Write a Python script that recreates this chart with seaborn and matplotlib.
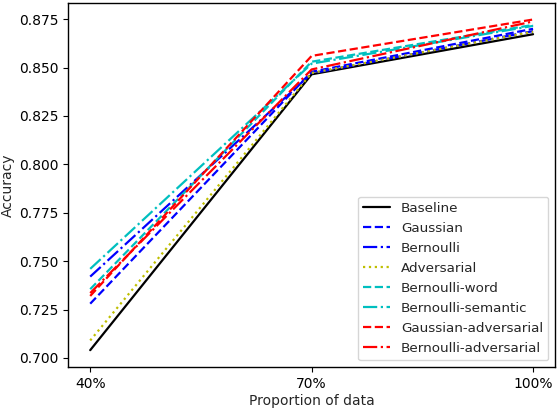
import matplotlib
matplotlib.use("Agg")
import matplotlib.pyplot as plt
import seaborn as sns
import pandas as pd

proportions = ["40%", "70%", "100%"]
series_names = ["Baseline", "Gaussian", "Bernoulli", "Adversarial",
                "Bernoulli-word", "Bernoulli-semantic",
                "Gaussian-adversarial", "Bernoulli-adversarial"]
baseline = [0.704, 0.8465, 0.8672]
gaussian = [0.728, 0.8478, 0.8700]
bernoulli = [0.742, 0.8470, 0.8688]
adversarial = [0.709, 0.8472, 0.8685]
bernoulli_word = [0.7355, 0.8530, 0.8720]
bernoulli_semantic = [0.746, 0.8520, 0.8715]
gaussian_adversarial = [0.732, 0.8560, 0.8748]
bernoulli_adversarial = [0.7335, 0.8490, 0.8738]

all_values = [baseline, gaussian, bernoulli, adversarial, bernoulli_word,
              bernoulli_semantic, gaussian_adversarial, bernoulli_adversarial]
colors = ["black", "#0000ff", "#0000ff", "#bfbf00", "#00bfbf", "#00bfbf", "#ff0000", "#ff0000"]
styles = ["-", "--", "-.", ":", "--", "-.", "--", "-."]

sns.set_style("ticks")
plt.rcParams['font.family'] = ['DejaVu Sans']

fig = plt.figure(figsize=(5.58, 4.08), dpi=100)
ax = fig.add_axes([0.122, 0.100, 0.873, 0.893])

for name, vals, c, ls in zip(series_names, all_values, colors, styles):
    df = pd.DataFrame({"x": list(range(len(proportions))), "y": vals})
    sns.lineplot(data=df, x="x", y="y", ax=ax, color=c, linestyle=ls,
                 linewidth=1.6, label=name)

ax.set_xticks(range(len(proportions)))
ax.set_xticklabels(proportions)
ax.set_xlim(-0.1, 2.1)
ax.set_ylim(0.6952, 0.8834)
yt = [0.700, 0.725, 0.750, 0.775, 0.800, 0.825, 0.850, 0.875]
ax.set_yticks(yt)
ax.set_yticklabels([f"{v:.3f}" for v in yt])
ax.set_xlabel("Proportion of data", fontsize=10, labelpad=2)
ax.set_ylabel("Accuracy", fontsize=10, labelpad=3)
ax.tick_params(labelsize=10, color="black", labelcolor="black", length=3.5, pad=3.5)
for s in ax.spines.values():
    s.set_color("black")
    s.set_linewidth(1.0)
ax.legend(loc="lower right", fontsize=9.7, frameon=True, handlelength=2.0,
          labelspacing=0.52, borderaxespad=0.5)

fig.savefig("out.png", dpi=100)
